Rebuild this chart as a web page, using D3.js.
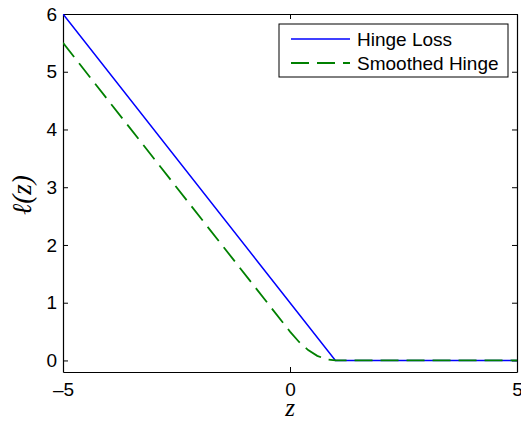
<!DOCTYPE html>
<html>
<head>
<meta charset="utf-8">
<script src="https://cdn.jsdelivr.net/npm/d3@7"></script>
<style>
  body { margin: 0; background: #fff; }
  svg { display: block; }
  text { font-family: "Liberation Sans", Arial, sans-serif; }
</style>
</head>
<body>
<div id="chart"></div>
<script>
// values
const hingeZ = [-5, 1, 5];
const hingeL = [6, 0, 0];
const smoothZ = [-5, 0, 0.2, 0.4, 0.6, 0.8, 1, 5];
const smoothL = [5.5, 0.5, 0.32, 0.18, 0.08, 0.02, 0, 0];
const xTicks = [-5, 0, 5];
const yTicks = [0, 1, 2, 3, 4, 5, 6];
const seriesNames = ["Hinge Loss", "Smoothed Hinge"];

const W = 521, H = 421;
const margin = {top: 14, right: 4, bottom: 49, left: 63};
const width = W - margin.left - margin.right;
const height = H - margin.top - margin.bottom;

const svg = d3.select("#chart").append("svg")
    .attr("width", W)
    .attr("height", H);

const g = svg.append("g")
    .attr("transform", `translate(${margin.left},${margin.top})`);

const x = d3.scaleLinear().domain([-5, 5]).range([0, width]);
const y = d3.scaleLinear().domain([-0.2, 6]).range([height, 0]);

const fmt = d => d < 0 ? "\u2013" + Math.abs(d) : String(d);

// axes, ticks pointing inward, mirrored like a boxed plot
const axB = g.append("g").attr("transform", `translate(0,${height})`)
    .call(d3.axisBottom(x).tickValues(xTicks).tickSizeInner(-5).tickSizeOuter(0).tickPadding(11).tickFormat(fmt));
const axT = g.append("g")
    .call(d3.axisTop(x).tickValues(xTicks).tickSizeInner(-5).tickSizeOuter(0).tickFormat(""));
const axL = g.append("g")
    .call(d3.axisLeft(y).tickValues(yTicks).tickSizeInner(-5).tickSizeOuter(0).tickPadding(6).tickFormat(fmt));
const axR = g.append("g").attr("transform", `translate(${width},0)`)
    .call(d3.axisRight(y).tickValues(yTicks).tickSizeInner(-5).tickSizeOuter(0).tickFormat(""));

[axB, axT, axL, axR].forEach(a => {
    a.selectAll("path").attr("stroke", "#000").attr("stroke-width", 1.2);
    a.selectAll("line").attr("stroke", "#000").attr("stroke-width", 1);
    a.selectAll("text").attr("fill", "#000").style("font-size", "19px")
        .style("font-family", "'Liberation Sans', Arial, sans-serif");
});

const line = d3.line().x(d => x(d[0])).y(d => y(d[1]));

svg.append("defs").append("clipPath").attr("id", "clip")
    .append("rect").attr("x", 0).attr("y", 0).attr("width", width).attr("height", height);

const plot = g.append("g").attr("clip-path", "url(#clip)");

plot.append("path")
    .datum(hingeZ.map((z, i) => [z, hingeL[i]]))
    .attr("fill", "none")
    .attr("stroke", "#0000ff")
    .attr("stroke-width", 1.5)
    .attr("d", line);

plot.append("path")
    .datum(smoothZ.map((z, i) => [z, smoothL[i]]))
    .attr("fill", "none")
    .attr("stroke", "#008000")
    .attr("stroke-width", 1.8)
    .attr("stroke-dasharray", "18,8")
    .attr("d", line);

// axis labels
svg.append("text")
    .attr("x", margin.left + x(0))
    .attr("y", 416)
    .attr("text-anchor", "middle")
    .style("font-family", "'Liberation Serif', 'DejaVu Serif', serif")
    .style("font-style", "italic")
    .style("font-size", "25px")
    .text("z");

svg.append("text")
    .attr("transform", "translate(31,195) rotate(-90)")
    .attr("text-anchor", "middle")
    .style("font-family", "'Liberation Serif', 'DejaVu Serif', serif")
    .style("font-style", "italic")
    .style("font-size", "27px")
    .text("\u2113(z)");

// legend
const legend = svg.append("g").attr("transform", "translate(279,24)");
legend.append("rect")
    .attr("width", 229).attr("height", 53)
    .attr("fill", "#fff").attr("stroke", "#000").attr("stroke-width", 1);

const legendStyles = [
    {color: "#0000ff", dash: null, w: 1.5},
    {color: "#008000", dash: "18,8", w: 1.8}
];
seriesNames.forEach((name, i) => {
    const ly = 15 + i * 24;
    legend.append("line")
        .attr("x1", 12).attr("x2", 71).attr("y1", ly).attr("y2", ly)
        .attr("stroke", legendStyles[i].color)
        .attr("stroke-width", legendStyles[i].w)
        .attr("stroke-dasharray", legendStyles[i].dash);
    legend.append("text")
        .attr("x", 78).attr("y", ly + 7)
        .style("font-size", "19px")
        .text(name);
});
</script>
</body>
</html>
